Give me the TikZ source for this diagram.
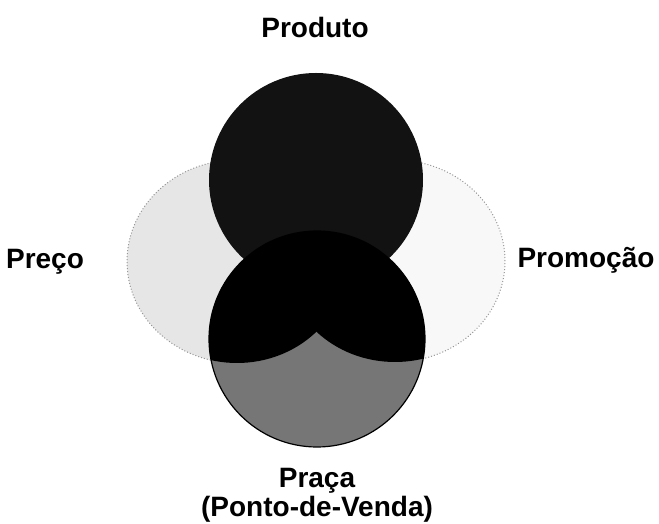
\documentclass[tikz,border=0pt]{standalone}
\usepackage{fontspec}
\setmainfont{Liberation Sans}
\usepackage{tikz}
\usetikzlibrary{positioning,calc}
\definecolor{PrecoGray}{RGB}{230,230,230}
\definecolor{PromoGray}{RGB}{248,248,248}
\definecolor{ProdDark}{RGB}{18,18,18}
\definecolor{PracaGray}{RGB}{118,118,118}
\definecolor{RimGray}{RGB}{150,150,150}
\tikzset{
  pname/.style={font=\bfseries\fontsize{14}{14.5}\selectfont,align=center,text=black},
  softdisc/.style={draw=RimGray,densely dotted,line width=0.5pt},
  hardisc/.style={draw=black,line width=0.6pt}
}
\begin{document}
\begin{tikzpicture}[x=0.5pt,y=0.5pt]
\useasboundingbox (0,0) rectangle (659,524);
\coordinate (cPreco) at (237,262.5);
\coordinate (cPromo) at (395,263);
\coordinate (cProd) at (316,344);
\coordinate (cPraca) at (317,185);

\fill[PrecoGray] (cPreco) ellipse [x radius=110,y radius=101.5];\draw[softdisc] (cPreco) ellipse [x radius=110,y radius=101.5];
\fill[PromoGray] (cPromo) ellipse [x radius=110,y radius=101];\draw[softdisc] (cPromo) ellipse [x radius=110,y radius=101];
\fill[ProdDark] (cProd) circle [radius=107];
\fill[PracaGray] (cPraca) circle [radius=108];
\begin{scope}
\clip (cPraca) circle [radius=108];
\fill[black] (cPreco) ellipse [x radius=110,y radius=101.5];
\fill[black] (cPromo) ellipse [x radius=110,y radius=101];
\end{scope}
\draw[hardisc] (cPraca) circle [radius=108];

\node[pname] (produto) at (315,497) {Produto};
\node[pname] (preco) at (45,262) {Preço};
\node[pname] (promocao) at (586,264) {Promoção};
\node[pname] (praca) at (317,29) {Praça\\(Ponto-de-Venda)};
\end{tikzpicture}
\end{document}
